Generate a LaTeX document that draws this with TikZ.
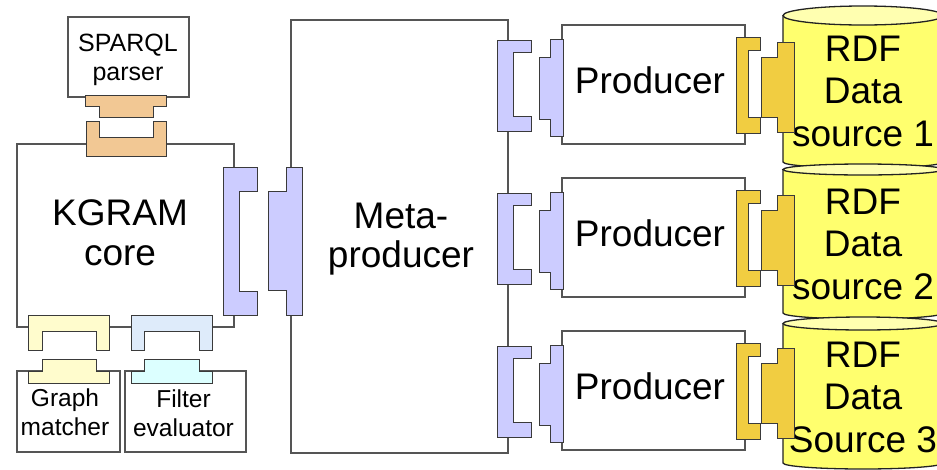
\documentclass[tikz,border=0pt]{standalone}
\usepackage{fontspec}
\setmainfont{Liberation Sans}
\definecolor{boxline}{HTML}{555555}
\definecolor{partline}{HTML}{3A3A3A}
\definecolor{blueF}{HTML}{CCCCFF}
\definecolor{orangeF}{HTML}{F2C894}
\definecolor{goldF}{HTML}{F1CD41}
\definecolor{paleyellowF}{HTML}{FFFCCD}
\definecolor{paleblueF}{HTML}{DEEBFA}
\definecolor{palecyanF}{HTML}{DCFFFF}
\definecolor{cylbodyF}{HTML}{FFFF6E}
\definecolor{cyltopF}{HTML}{FFFFB0}
\definecolor{cylline}{HTML}{222222}
\begin{document}
\begin{tikzpicture}[x=1pt, y=-1pt,
  box/.style={rectangle, draw=boxline, line width=1.1pt, fill=white, inner sep=0pt, outer sep=0pt},
  part/.style={draw=partline, line width=1pt, line join=miter},
  lbl/.style={inner sep=0pt, outer sep=0pt, align=center, text=black},
  bigtext/.style={font=\fontsize{37}{39.5}\selectfont},
  smalltext/.style={font=\fontsize{24.5}{29}\selectfont},
  cylstroke/.style={draw=cylline, line width=1.3pt}
]
\useasboundingbox (0,0) rectangle (937,469);
\clip (0,0) rectangle (937,469);

% ---------- boxes ----------
\node[box, minimum width=121, minimum height=80] (sparql) at (128.5,57) {};
\node[box, minimum width=217, minimum height=183] (kgram) at (125.5,235.5) {};
\node[box, minimum width=103, minimum height=81] (graph) at (68.5,411.5) {};
\node[box, minimum width=121, minimum height=81] (filter) at (185.5,411.5) {};
\node[box, minimum width=217, minimum height=433] (meta) at (399.5,236.5) {};

% ---------- labels (left part) ----------
\node[lbl, font=\fontsize{25}{29}\selectfont] (sparqltext) at (128,60) {SPARQL\\parser};
\node[lbl, bigtext] (kgramtext) at (120,233) {KGRAM\\core};
\node[lbl, smalltext] (graphtext) at (65,412.5) {Graph\\matcher};
\node[lbl, smalltext] (filtertext) at (183.5,413.5) {Filter\\evaluator};
\node[lbl, font=\fontsize{37}{39}\selectfont] (metatext) at (401,239.6) {Meta-\\producer};

% ---------- SPARQL / KGRAM connection ----------
\filldraw[part, fill=orangeF] (85,95) -- (166,95) -- (166,106) -- (153,106) -- (153,117) -- (99,117) -- (99,106) -- (85,106) -- cycle;
\filldraw[part, fill=orangeF] (86,121) -- (99,121) -- (99,137) -- (153,137) -- (153,121) -- (166,121) -- (166,156) -- (86,156) -- cycle;

% ---------- KGRAM / Meta-producer connection ----------
\filldraw[part, fill=blueF] (223,167) -- (257,167) -- (257,191) -- (239,191) -- (239,291) -- (257,291) -- (257,315) -- (223,315) -- cycle;
\filldraw[part, fill=blueF] (286,167) -- (302,167) -- (302,315) -- (286,315) -- (286,290) -- (268,290) -- (268,191) -- (286,191) -- cycle;

% ---------- KGRAM / Graph matcher, Filter evaluator ----------
\filldraw[part, fill=paleyellowF] (28,315) -- (109,315) -- (109,350) -- (96,350) -- (96,331) -- (42,331) -- (42,350) -- (28,350) -- cycle;
\filldraw[part, fill=paleblueF] (131,315) -- (212,315) -- (212,350) -- (199,350) -- (199,331) -- (144,331) -- (144,350) -- (131,350) -- cycle;
\filldraw[part, fill=paleyellowF] (42,359) -- (96,359) -- (96,371) -- (109,371) -- (109,383) -- (28,383) -- (28,371) -- (42,371) -- cycle;
\filldraw[part, fill=palecyanF] (144,359) -- (199,359) -- (199,371) -- (212,371) -- (212,383) -- (131,383) -- (131,371) -- (144,371) -- cycle;

% ---------- data source cylinders ----------
\foreach \tc/\ryt/\bc/\ryb/\n/\txt in {15.5/9.5/162/6/1/{RDF\\Data\\source 1}, 169.5/5.5/313/6/2/{RDF\\Data\\source 2}, 323.5/6.5/463/6/3/{RDF\\Data\\Source 3}} {
  \pgfmathsetmacro\bk{\bc+0.5523*\ryb}
  \pgfmathsetmacro\bb{\bc+\ryb}
  \fill[cylbodyF] (783,\tc) -- (783,\bc) .. controls (783,\bk) and (818.8,\bb) .. (863,\bb) .. controls (907.2,\bb) and (943,\bk) .. (943,\bc) -- (943,\tc) -- cycle;
  \draw[cylstroke] (783,\tc) -- (783,\bc) .. controls (783,\bk) and (818.8,\bb) .. (863,\bb) .. controls (907.2,\bb) and (943,\bk) .. (943,\bc) -- (943,\tc);
  \draw[cylstroke, fill=cyltopF] (863,\tc) ellipse [x radius=80, y radius=\ryt];
  \pgfmathsetmacro\ty{91+153*(\n-1)}
  \node[lbl, font=\fontsize{37}{42.5}\selectfont] (rdftext\n) at (863,\ty) {\txt};
}

% ---------- producers and their connections ----------
\foreach \r in {0,1,2} {
  \pgfmathsetmacro\dy{153*\r}
  \begin{scope}[shift={(0,\dy)}]
    \node[box, minimum width=183, minimum height=119] (prod\r) at (653.5,84.5) {};
    \node[lbl, bigtext, anchor=base] (prodtext\r) at (650,93) {Producer};
    % meta-producer socket
    \filldraw[part, fill=blueF] (497,40) -- (531,40) -- (531,52) -- (513,52) -- (513,116) -- (531,116) -- (531,131) -- (497,131) -- cycle;
    % producer plug
    \filldraw[part, fill=blueF] (550,39) -- (563,39) -- (563,136) -- (550,136) -- (550,119) -- (539,119) -- (539,57) -- (550,57) -- cycle;
    % producer socket
    \filldraw[part, fill=goldF] (736,37) -- (760,37) -- (760,50) -- (748,50) -- (748,117) -- (760,117) -- (760,133) -- (736,133) -- cycle;
    % data source plug
    \filldraw[part, fill=goldF] (777,42) -- (794,42) -- (794,132) -- (777,132) -- (777,117) -- (761,117) -- (761,57) -- (777,57) -- cycle;
  \end{scope}
}
\end{tikzpicture}
\end{document}
